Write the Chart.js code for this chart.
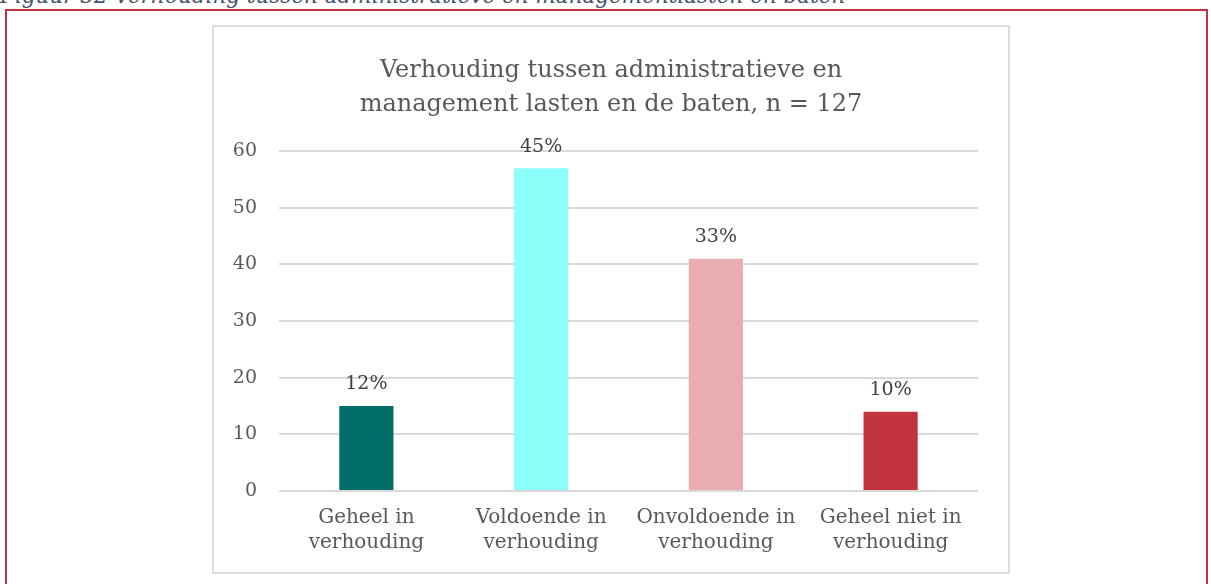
<!DOCTYPE html>
<html>
<head>
<meta charset="utf-8">
<script src="https://cdn.jsdelivr.net/npm/chart.js@4"></script>
<style>
  body { margin: 0; background: #fff; width: 1211px; height: 584px; overflow: hidden; position: relative; }
  #caption { position: absolute; left: 0; top: -17px; font: italic 21.5px "DejaVu Serif", serif; color: #44546A; white-space: nowrap; }
  #frame { position: absolute; left: 5px; top: 9px; width: 1199px; height: 600px; border: 2px solid #C2343F; }
  #box { position: absolute; left: 212px; top: 25px; width: 794px; height: 545px; border: 2px solid #DDDDDD; background: #fff; }
  #box canvas { position: absolute; left: 0; top: 0; }
</style>
</head>
<body>
<div id="caption">Figuur 32 Verhouding tussen administratieve en managementlasten en baten</div>
<div id="frame"></div>
<div id="box"><canvas id="myChart" width="794" height="545"></canvas></div>
<script>
const categories = [['Geheel in', 'verhouding'], ['Voldoende in', 'verhouding'], ['Onvoldoende in', 'verhouding'], ['Geheel niet in', 'verhouding']];
const counts = [15, 57, 41, 14];
const percentLabels = ['12%', '45%', '33%', '10%'];
const barColors = ['#006D68', '#8CFFFB', '#E8ADB1', '#C2343F'];
const yTicks = [0, 10, 20, 30, 40, 50, 60];

const serif = '"DejaVu Serif", Georgia, serif';

// percentages above the bars
const barLabels = {
  id: 'barLabels',
  afterDatasetsDraw(chart) {
    const c = chart.ctx;
    const meta = chart.getDatasetMeta(0);
    c.save();
    c.font = '19px ' + serif;
    c.fillStyle = '#404040';
    c.textAlign = 'center';
    c.textBaseline = 'bottom';
    meta.data.forEach((bar, i) => {
      c.fillText(percentLabels[i], bar.x, bar.y - 12);
    });
    c.restore();
  }
};

const ctx = document.getElementById('myChart').getContext('2d');
const myChart = new Chart(ctx, {
  type: 'bar',
  data: {
    labels: categories,
    datasets: [{
      data: counts,
      backgroundColor: barColors,
      barPercentage: 0.31,
      categoryPercentage: 1
    }]
  },
  options: {
    responsive: false,
    animation: false,
    layout: { padding: 0 },
    plugins: {
      legend: { display: false },
      tooltip: { enabled: false },
      title: {
        display: true,
        text: ['Verhouding tussen administratieve en', 'management lasten en de baten, n = 127'],
        color: '#595959',
        font: { family: serif, size: 24, weight: 'normal', lineHeight: 1.4 },
        padding: { top: 27, bottom: 30 }
      }
    },
    scales: {
      x: {
        grid: { display: false },
        border: { display: false },
        ticks: {
          color: '#595959',
          font: { family: serif, size: 20, lineHeight: 1.25 },
          padding: 6,
          maxRotation: 0
        },
        afterFit(scale) { scale.height = 81; }
      },
      y: {
        min: 0,
        max: 60,
        afterBuildTicks(scale) { scale.ticks = yTicks.map(v => ({ value: v })); },
        grid: { color: '#D9D9D9', lineWidth: 2, drawTicks: false },
        border: { display: false },
        ticks: {
          color: '#595959',
          font: { family: serif, size: 19 },
          padding: 22
        },
        afterFit(scale) { scale.width = 65; }
      },
      // empty right axis, only keeps a margin on the right side
      yRight: {
        position: 'right',
        grid: { display: false },
        border: { display: false },
        ticks: { display: false },
        afterFit(scale) { scale.width = 30; }
      }
    }
  },
  plugins: [barLabels]
});
</script>
</body>
</html>
